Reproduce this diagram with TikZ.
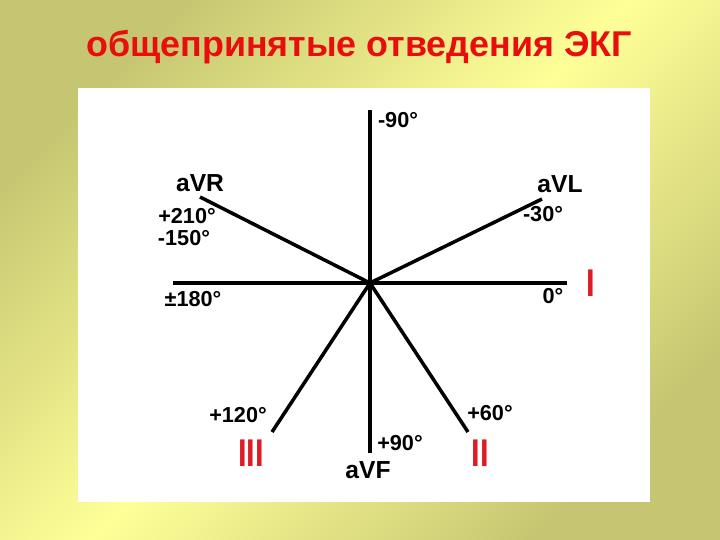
\documentclass[tikz,border=0pt]{standalone}
\usepackage{fontspec}
\setmainfont{Liberation Sans}
\definecolor{leadRed}{RGB}{222,28,36}
\definecolor{titleRed}{RGB}{232,14,14}
\definecolor{bgOlive}{RGB}{198,198,114}
\definecolor{bgLight}{RGB}{255,255,152}

\begin{document}
\begin{tikzpicture}
[x=0.03cm,y=-0.03cm,
  axisDecorate/.style={-,line width=3pt},
  degDecorate/.style={font=\fontsize{18.5}{18.5}\selectfont\bfseries,inner sep=0pt},
  leadDecorate/.style={font=\fontsize{21}{21}\selectfont\bfseries,inner sep=0pt},
  romanDecorate/.style={font=\fontsize{33}{33}\selectfont\bfseries,text=leadRed,inner sep=0pt,xscale=0.8}]
\useasboundingbox (0,0) rectangle (720,540);
%% background and white card
\shade[top color=bgOlive,bottom color=bgOlive,middle color=bgLight,shading angle=45]
  (0,0) rectangle (720,540);
\fill[white] (78,88) rectangle (650,502);
\node (title) at (359,47) [font=\fontsize{30.6}{30.6}\selectfont\bfseries,text=titleRed,inner sep=0pt]
  {общепринятые отведения ЭКГ};
%% centre and axis ends
\coordinate (O) at (370,283);
\foreach \endname/\x/\y in {
  up/370/110, down/370/453, left/173/283, right/567/283,
  vr/200/197, vl/542/199, iii/272/432, ii/468/432}
{
  \coordinate (\endname) at (\x,\y);
}
%% axes
\path
\foreach \endname in {up, down, left, right, vr, vl, iii, ii}
{
  (O) edge[axisDecorate] (\endname)
};
%% degree labels
\foreach \labname/\x/\y/\txt in {
  m90/398/120/-90°, m30/543/214/-30°, d0/553/296/0°,
  p210/187/216/+210°, m150/184/238/-150°, pm180/193/299/±180°,
  p120/238/415/+120°, p90/400/443/+90°, p60/490/413/+60°}
{
  \node (\labname) at (\x,\y) [degDecorate] {\txt};
}
%% lead names
\foreach \labname/\x/\y/\txt in {
  avr/200/183/aVR, avl/560/184/aVL, avf/368/470/aVF}
{
  \node (\labname) at (\x,\y) [leadDecorate] {\txt};
}
\node (leadI) at (591,283) [romanDecorate] {I};
\node (leadII) at (480,453) [romanDecorate] {II};
\node (leadIII) at (251,453) [romanDecorate] {III};
\end{tikzpicture}
\end{document}
